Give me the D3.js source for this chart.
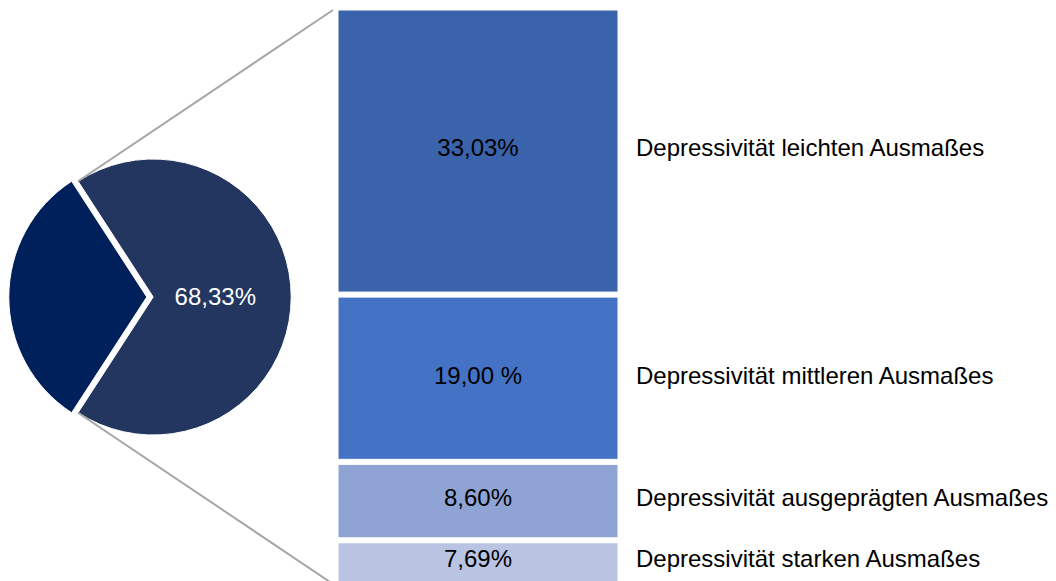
<!DOCTYPE html>
<html lang="de">
<head>
<meta charset="utf-8">
<script src="https://cdn.jsdelivr.net/npm/d3@7"></script>
<style>
  html, body { margin: 0; padding: 0; background: #ffffff; }
  svg { display: block; font-family: "Liberation Sans", Arial, sans-serif; }
</style>
</head>
<body>
<svg id="chart" width="1056" height="581"></svg>
<script>
// Pie: share with any depressive symptoms vs. the rest
const pieValues = [68.33, 31.67];
const pieLabels = ["68,33%", ""];
const pieColors = ["#22365f", "#00205b"];

// Stacked breakdown of the 68,33 % slice
const categories = [
  "Depressivität leichten Ausmaßes",
  "Depressivität mittleren Ausmaßes",
  "Depressivität ausgeprägten Ausmaßes",
  "Depressivität starken Ausmaßes"
];
const barValues = [33.03, 19.00, 8.60, 7.69];
const barLabels = ["33,03%", "19,00 %", "8,60%", "7,69%"];
const barColors = ["#3b63ab", "#4472c4", "#8fa3d4", "#b9c3e2"];

(function () {
  const W = 1056, H = 581;
  const svg = d3.select("#chart");
  const fontSize = 24;

  // ---- pie ----
  const cx = 150, cy = 297, r = 138, explode = 3.2;
  const span = (pieValues[0] / d3.sum(pieValues)) * 2 * Math.PI;
  const pie = d3.pie().sort(null)
    .startAngle(Math.PI / 2 - span / 2)
    .endAngle(Math.PI / 2 - span / 2 + 2 * Math.PI);
  const arcs = pie(pieValues);
  const arc = d3.arc().innerRadius(0).outerRadius(r);
  const labelArc = d3.arc().innerRadius(r * 0.45).outerRadius(r * 0.45);

  const slices = svg.append("g").selectAll("g")
    .data(arcs)
    .join("g")
    .attr("transform", d => {
      const mid = (d.startAngle + d.endAngle) / 2;
      const ox = cx + Math.sin(mid) * explode;
      const oy = cy - Math.cos(mid) * explode;
      return `translate(${ox},${oy})`;
    });

  slices.append("path")
    .attr("d", arc)
    .attr("fill", (d, i) => pieColors[i])
    .attr("stroke", "#ffffff")
    .attr("stroke-width", 1);

  slices.append("text")
    .attr("transform", d => `translate(${labelArc.centroid(d)})`)
    .attr("text-anchor", "middle")
    .attr("dy", "0.35em")
    .attr("fill", "#ffffff")
    .attr("font-size", fontSize)
    .text((d, i) => pieLabels[i]);

  // ---- stacked bar ----
  const barX0 = 338, barX1 = 618, stackTop = 10, gap = 5;
  const k = d3.scaleLinear().domain([0, 1]).range([0, 8.54]);
  let yCursor = stackTop;
  const stack = barValues.map((v, i) => {
    const h = k(v);
    const s = { i, y0: yCursor, y1: yCursor + h };
    yCursor += h + gap;
    return s;
  });

  svg.append("g").selectAll("rect")
    .data(stack)
    .join("rect")
    .attr("x", barX0)
    .attr("y", d => d.y0)
    .attr("width", barX1 - barX0)
    .attr("height", d => d.y1 - d.y0)
    .attr("fill", d => barColors[d.i])
    .attr("stroke", "#ffffff")
    .attr("stroke-width", 1);

  const labelY = d => (d.y0 + Math.min(d.y1, H)) / 2 - 3;

  svg.append("g").selectAll("text")
    .data(stack)
    .join("text")
    .attr("x", (barX0 + barX1) / 2)
    .attr("y", labelY)
    .attr("dy", "0.35em")
    .attr("text-anchor", "middle")
    .attr("fill", "#000000")
    .attr("font-size", fontSize)
    .text(d => barLabels[d.i]);

  svg.append("g").selectAll("text")
    .data(stack)
    .join("text")
    .attr("x", 636)
    .attr("y", labelY)
    .attr("dy", "0.35em")
    .attr("text-anchor", "start")
    .attr("fill", "#000000")
    .attr("font-size", fontSize)
    .text(d => categories[d.i]);

  // ---- connector lines from the exploded slice to the stack ----
  const big = arcs[0];
  const bigMid = (big.startAngle + big.endAngle) / 2;
  const bx = cx + Math.sin(bigMid) * explode, by = cy - Math.cos(bigMid) * explode;
  const pA = [bx + Math.sin(big.startAngle) * r, by - Math.cos(big.startAngle) * r];
  const pB = [bx + Math.sin(big.endAngle) * r, by - Math.cos(big.endAngle) * r];
  const connectors = [
    [pA, [barX0 - 5, stackTop]],
    [pB, [barX0 - 5, 2 * cy - stackTop]]
  ];
  svg.append("g").selectAll("line")
    .data(connectors)
    .join("line")
    .attr("x1", d => d[0][0]).attr("y1", d => d[0][1])
    .attr("x2", d => d[1][0]).attr("y2", d => d[1][1])
    .attr("stroke", "#a6a6a6")
    .attr("stroke-width", 2);
})();
</script>
</body>
</html>
